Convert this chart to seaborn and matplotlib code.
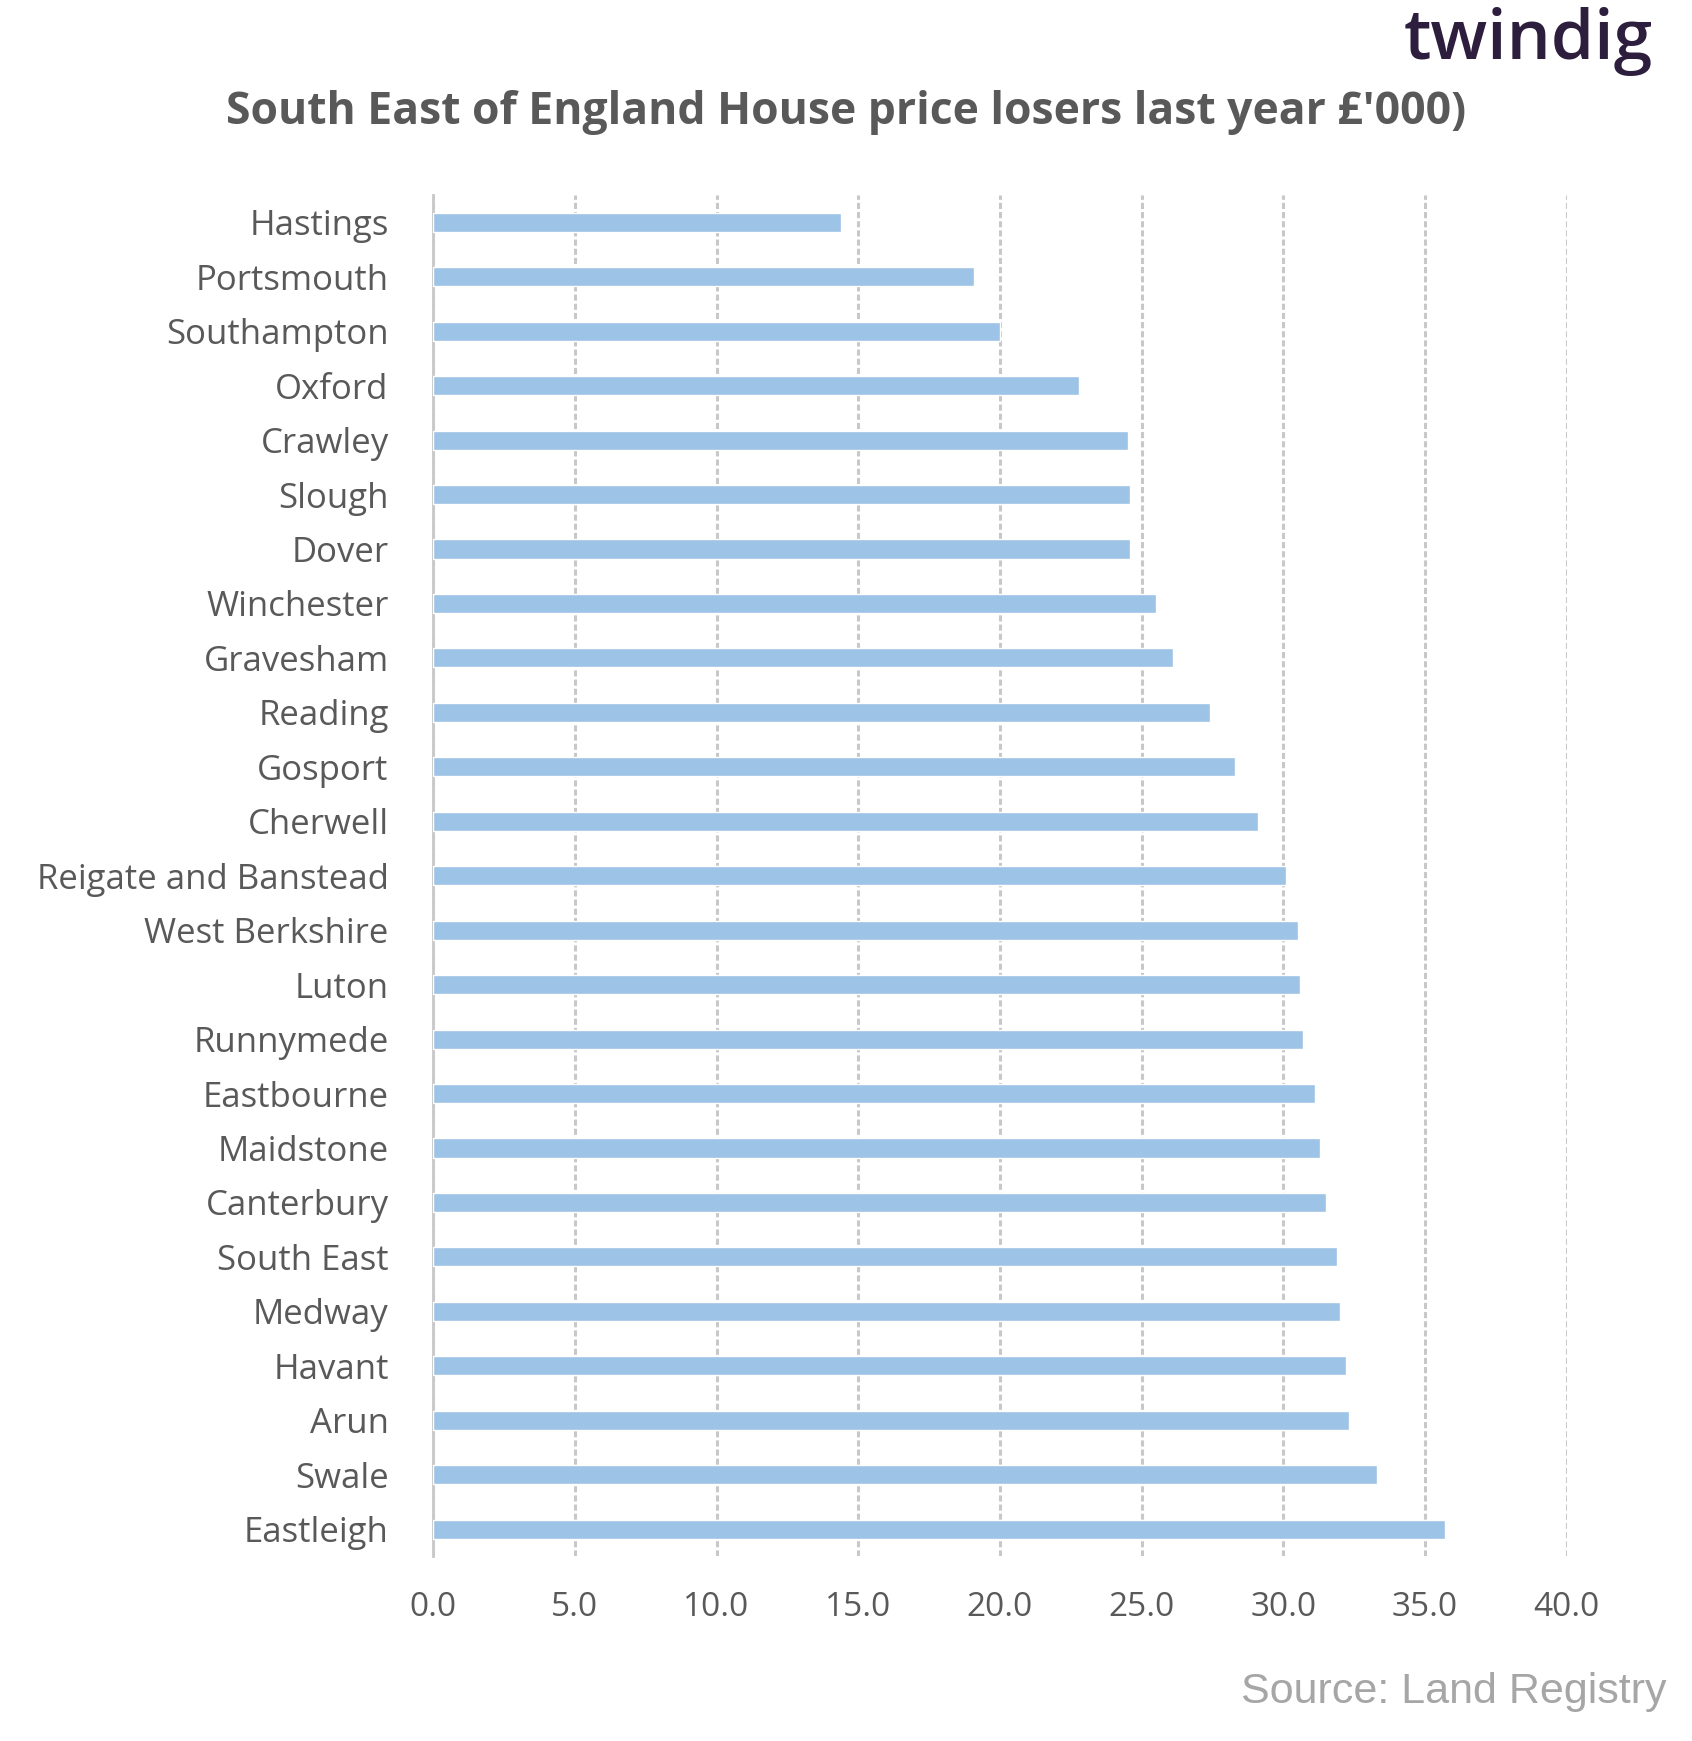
import matplotlib
matplotlib.use("Agg")
import matplotlib.pyplot as plt
import seaborn as sns
import pandas as pd

areas = ["Hastings","Portsmouth","Southampton","Oxford","Crawley","Slough","Dover","Winchester",
         "Gravesham","Reading","Gosport","Cherwell","Reigate and Banstead","West Berkshire","Luton",
         "Runnymede","Eastbourne","Maidstone","Canterbury","South East","Medway","Havant","Arun",
         "Swale","Eastleigh"]
losses = [14.4,19.1,20.0,22.8,24.5,24.6,24.6,25.5,26.1,27.4,28.3,29.1,30.1,30.5,30.6,
          30.7,31.1,31.3,31.5,31.9,32.0,32.2,32.3,33.3,35.7]
ticks = [0,5,10,15,20,25,30,35,40]

sns.set_theme(style="white")
plt.rcParams['font.family'] = ['Open Sans', 'DejaVu Sans']
df = pd.DataFrame({"area": areas, "loss": losses})

fig = plt.figure(figsize=(16.92, 17.41), dpi=100)
ax = fig.add_axes([0.256, 0.106, 0.67, 0.782])
sns.barplot(data=df, x="loss", y="area", color="#9dc3e6", saturation=1, width=0.35, ax=ax, zorder=3)
ax.set_xlim(0, 40)
ax.set_xticks(ticks)
ax.set_xticklabels([f"{t:.1f}" for t in ticks], fontsize=24, color="#595959")
ax.tick_params(axis="y", labelsize=25, labelcolor="#595959", length=0, pad=32)
ax.tick_params(axis="x", length=0, pad=25)
ax.set_xlabel(""); ax.set_ylabel("")
ax.xaxis.grid(True, color="#c8c8c8", linestyle=(0, (2, 1)), linewidth=2.2, zorder=0)
for s in ["top", "right", "bottom"]:
    ax.spines[s].set_visible(False)
ax.spines["left"].set_color("#c8c8c8"); ax.spines["left"].set_linewidth(2)
ax.set_ylim(len(areas) - 0.5, -0.5)

fig.text(0.5, 0.929, "South East of England House price losers last year £'000)", ha="center",
         fontsize=32, fontweight="bold", color="#595959")
fig.text(0.977, 0.966, "twindig", ha="right", fontsize=50, fontweight="semibold", color="#2d1e3e")
fig.text(0.985, 0.022, "Source: Land Registry", ha="right", fontsize=31, color="#a6a6a6",
         family=["Liberation Sans"])
fig.savefig("out.png", dpi=100)
